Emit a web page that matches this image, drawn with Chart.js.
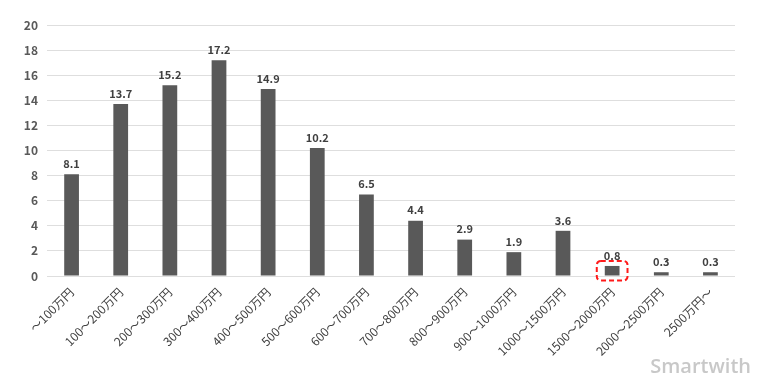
<!DOCTYPE html>
<html>
<head>
<meta charset="utf-8">
<script src="https://cdn.jsdelivr.net/npm/chart.js@4.4.1/dist/chart.umd.min.js"></script>
<style>
html,body{margin:0;padding:0;background:#fff;}
#wrap{width:768px;height:384px;position:relative;}
</style>
</head>
<body>
<div id="wrap"><canvas id="c" width="768" height="384"></canvas></div>
<script>
const categories = ["～100万円","100～200万円","200～300万円","300～400万円","400～500万円","500～600万円","600～700万円","700～800万円","800～900万円","900～1000万円","1000～1500万円","1500～2000万円","2000～2500万円","2500万円～"];
const values = [8.1, 13.7, 15.2, 17.2, 14.9, 10.2, 6.5, 4.4, 2.9, 1.9, 3.6, 0.8, 0.3, 0.3];
const yTicks = [0, 2, 4, 6, 8, 10, 12, 14, 16, 18, 20];
const highlightIndex = 11;
const watermark = "Smartwith";

const FONT = "'Noto Sans CJK JP', 'Noto Sans', sans-serif";

const overlay = {
  id: 'overlay',
  afterDatasetsDraw(chart) {
    const ctx = chart.ctx;
    const meta = chart.getDatasetMeta(0);
    ctx.save();
    ctx.font = "bold 11px " + FONT;
    ctx.fillStyle = '#404040';
    ctx.textAlign = 'center';
    ctx.textBaseline = 'bottom';
    meta.data.forEach((bar, i) => {
      ctx.fillText(values[i].toFixed(1), bar.x, bar.y - 5);
    });
    // highlight box
    const b = meta.data[highlightIndex];
    const half = b.width / 2;
    const x0 = b.x - half - 8, x1 = b.x + half + 8;
    const y0 = b.y - 5, y1 = b.base + 5;
    ctx.strokeStyle = '#ff1a1a';
    ctx.lineWidth = 2;
    ctx.setLineDash([5, 3]);
    ctx.beginPath();
    ctx.roundRect(x0, y0, x1 - x0, y1 - y0, 4);
    ctx.stroke();
    ctx.setLineDash([]);
    // watermark
    ctx.font = "600 20px 'Open Sans', 'Noto Sans', sans-serif";
    ctx.fillStyle = '#c8c8c8';
    ctx.textAlign = 'right';
    ctx.textBaseline = 'alphabetic';
    ctx.fillText(watermark, 751, 373);
    ctx.restore();
  }
};

new Chart(document.getElementById('c'), {
  type: 'bar',
  data: {
    labels: categories,
    datasets: [{
      data: values,
      backgroundColor: '#595959',
      borderWidth: 0,
      categoryPercentage: 1.0,
      barPercentage: 0.3
    }]
  },
  options: {
    responsive: false,
    animation: false,
    events: [],
    layout: { padding: { top: 25, right: 33, left: 0, bottom: 0 } },
    plugins: { legend: { display: false }, tooltip: { enabled: false } },
    scales: {
      x: {
        grid: { display: false, drawTicks: false },
        border: { display: false },
        ticks: {
          minRotation: 45, maxRotation: 45, autoSkip: false,
          color: '#404040',
          font: { family: FONT, size: 12 },
          padding: 9
        },
        afterFit(scale) { scale.height = 108; }
      },
      y: {
        min: 0, max: 20,
        afterBuildTicks(scale) { scale.ticks = yTicks.map(v => ({ value: v })); },
        grid: { color: '#dedede', drawTicks: false, lineWidth: 1 },
        border: { display: false },
        ticks: {
          color: '#595959',
          font: { family: FONT, size: 12, weight: 'bold' },
          padding: 9
        },
        afterFit(scale) { scale.width = 47; }
      }
    }
  },
  plugins: [overlay]
});
</script>
</body>
</html>
